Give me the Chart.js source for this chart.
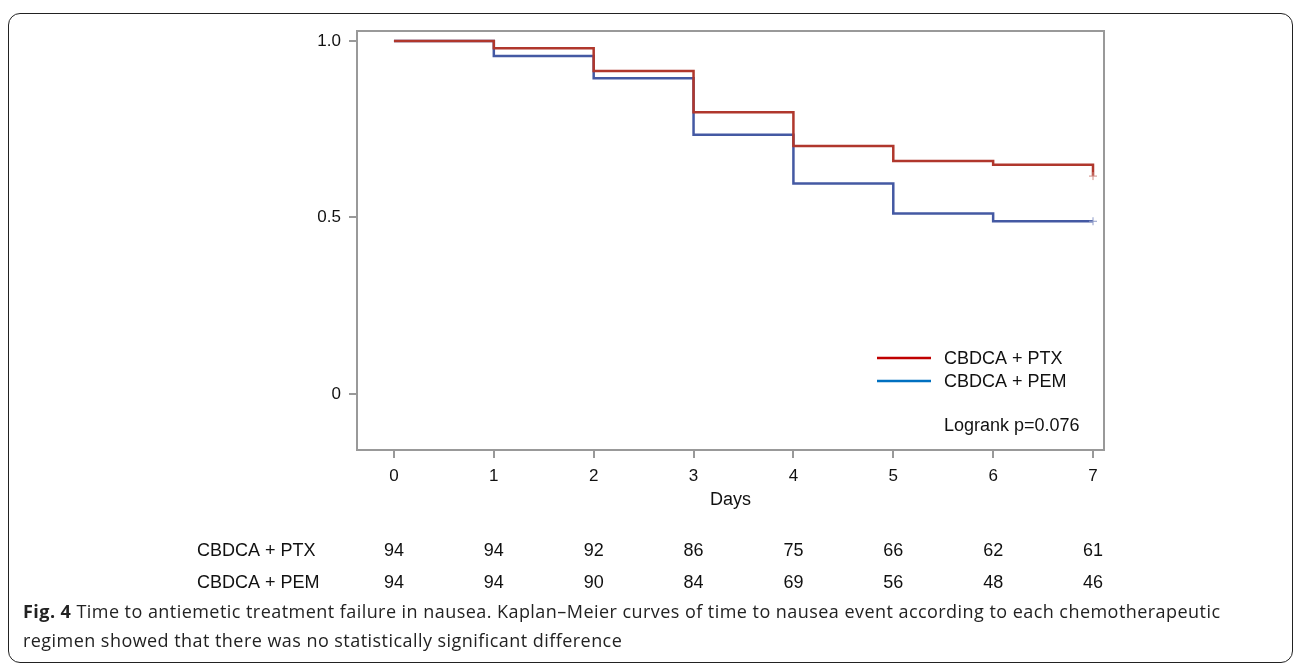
<!DOCTYPE html>
<html><head><meta charset="utf-8">
<script src="https://cdn.jsdelivr.net/npm/chart.js@4/dist/chart.umd.min.js"></script>
<style>
html,body{margin:0;padding:0;background:#fff;}
#wrap{position:relative;width:1295px;height:665px;overflow:hidden;background:#fff;}
#box{position:absolute;left:8px;top:13px;width:1285px;height:650px;border:1.5px solid #222;border-radius:12px;box-sizing:border-box;}
#cv{position:absolute;left:0;top:0;}
#cap{position:absolute;left:23px;top:597px;font-family:"Open Sans",sans-serif;font-size:18px;letter-spacing:0.45px;line-height:29px;color:#222;white-space:nowrap;}
#cap b{font-weight:700;}
</style></head>
<body>
<div id="wrap">
<div id="box"></div>
<canvas id="cv" width="1295" height="665"></canvas>
<div id="cap"><b>Fig. 4</b> Time to antiemetic treatment failure in nausea. Kaplan–Meier curves of time to nausea event according to each chemotherapeutic<br>regimen showed that there was no statistically significant difference</div>
</div>
<script>
const days=[0,1,2,3,4,5,6,7];
const survPTX=[1.0,0.979,0.915,0.798,0.702,0.660,0.649,0.617];
const survPEM=[1.0,0.957,0.894,0.734,0.596,0.511,0.489,0.489];
const atRiskPTX=[94,94,92,86,75,66,62,61];
const atRiskPEM=[94,94,90,84,69,56,48,46];
const seriesNames=['CBDCA + PTX','CBDCA + PEM'];
const yTicks=[0,0.5,1.0];
const yTickLabels=['0','0.5','1.0'];
const xTitle='Days';
const logrankText='Logrank p=0.076';

const FONT='"Liberation Sans", Arial, sans-serif';
const lineColors=['#b0372c','#4459a3'];
const legendColors=['#c00000','#0070c0'];
const frameColor='#999999';

function pts(ys){return days.map((d,i)=>({x:d,y:ys[i]}));}
function censorRadius(){return days.map((d,i)=>i===days.length-1?4:0);}

const framePlugin={
  id:'frame',
  beforeDatasetsDraw(chart){
    const a=chart.chartArea,ctx=chart.ctx;
    ctx.save();ctx.strokeStyle=frameColor;ctx.lineWidth=2;
    ctx.strokeRect(a.left,a.top,a.right-a.left,a.bottom-a.top);
    ctx.restore();
  },
  afterDraw(chart){
    const ctx=chart.ctx,xs=chart.scales.x;
    ctx.save();
    ctx.font='18px '+FONT;ctx.textBaseline='middle';ctx.textAlign='left';
    const ly=[359,382];
    seriesNames.forEach((n,i)=>{
      ctx.strokeStyle=legendColors[i];ctx.lineWidth=2.5;
      ctx.beginPath();ctx.moveTo(877,ly[i]-1);ctx.lineTo(931,ly[i]-1);ctx.stroke();
      ctx.fillStyle='#111';ctx.fillText(n,944,ly[i]);
    });
    ctx.fillText(logrankText,944,426);
    const rows=[atRiskPTX,atRiskPEM],ry=[551,583];
    rows.forEach((r,j)=>{
      ctx.textAlign='left';ctx.fillText(seriesNames[j],197,ry[j]);
      ctx.textAlign='center';
      r.forEach((v,i)=>ctx.fillText(String(v),xs.getPixelForValue(days[i]),ry[j]));
    });
    ctx.restore();
  }
};

new Chart(document.getElementById('cv'),{
  type:'line',
  data:{datasets:[
    {label:seriesNames[0],data:pts(survPTX),stepped:'before',borderColor:lineColors[0],backgroundColor:lineColors[0],borderWidth:2.5,pointStyle:'cross',pointRadius:censorRadius(),pointBorderWidth:1,pointBorderColor:'#d08a84',fill:false},
    {label:seriesNames[1],data:pts(survPEM),stepped:'before',borderColor:lineColors[1],backgroundColor:lineColors[1],borderWidth:2.5,pointStyle:'cross',pointRadius:censorRadius(),pointBorderWidth:1,pointBorderColor:'#8e9bc8',fill:false}
  ]},
  options:{
    responsive:false,animation:false,
    layout:{padding:{left:0,right:191,top:31,bottom:145}},
    plugins:{legend:{display:false},tooltip:{enabled:false}},
    scales:{
      x:{type:'linear',min:-0.37,max:7.11,
        afterBuildTicks(s){s.ticks=days.map(v=>({value:v}));},
        afterFit(s){s.height=70;},
        ticks:{font:{family:FONT,size:17},color:'#111',padding:8,callback:v=>String(v)},
        grid:{drawOnChartArea:false,drawTicks:true,tickLength:8,color:frameColor,lineWidth:2},
        border:{display:true,color:frameColor,width:2},
        title:{display:true,text:xTitle,font:{family:FONT,size:18},color:'#111',padding:{top:0,bottom:9}}
      },
      y:{min:-0.159,max:1.028,
        afterBuildTicks(s){s.ticks=yTicks.map(v=>({value:v}));},
        afterFit(s){s.width=357;},
        ticks:{font:{family:FONT,size:17},color:'#111',padding:8,callback:(v)=>yTickLabels[yTicks.indexOf(v)]},
        grid:{drawOnChartArea:false,drawTicks:true,tickLength:8,color:frameColor,lineWidth:2},
        border:{display:true,color:frameColor,width:2}
      }
    }
  },
  plugins:[framePlugin]
});
</script>
</body></html>
